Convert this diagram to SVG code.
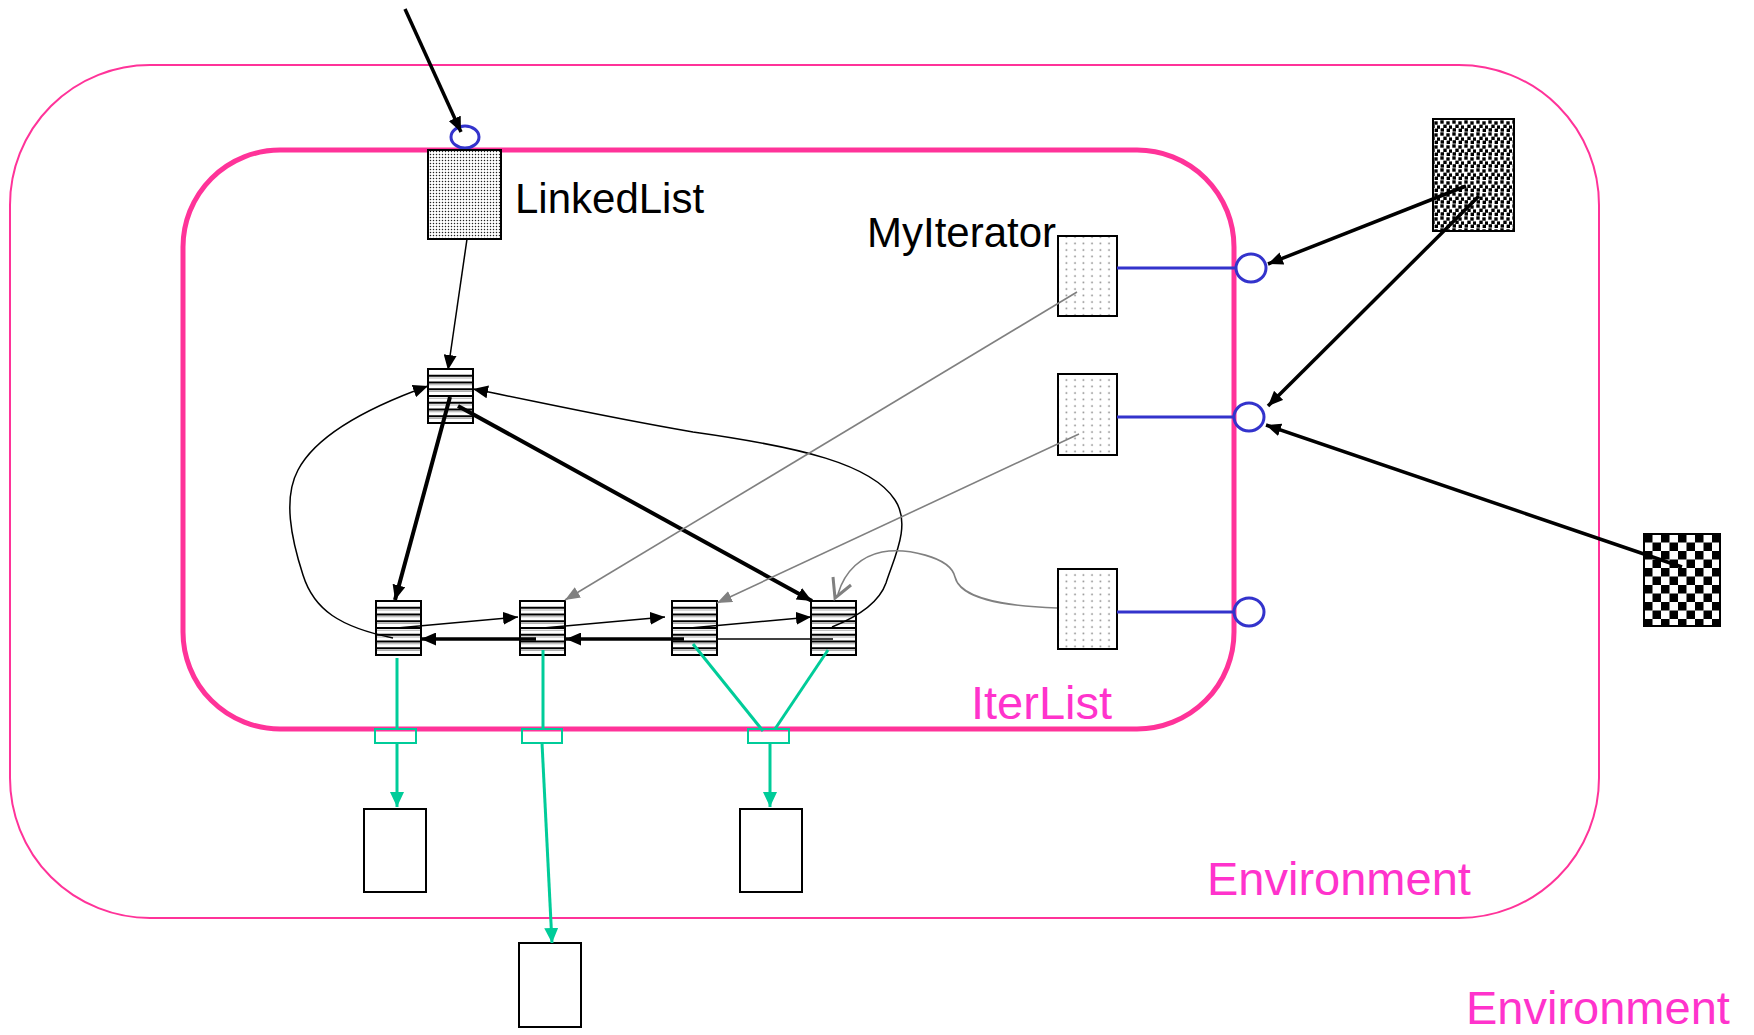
<svg xmlns="http://www.w3.org/2000/svg" xmlns:xlink="http://www.w3.org/1999/xlink" width="1754" height="1035" viewBox="0 0 1754 1035">
<style>
.env{fill:none;stroke:#FF3399}
.lbl{font-family:"Liberation Sans",Arial,sans-serif;font-size:42px;fill:#000}
.plbl{font-family:"Liberation Sans",Arial,sans-serif;font-size:47px;fill:#FF33CC}
.box{stroke:#000;stroke-width:2}
.blue{stroke:#3333CC;stroke-width:3;fill:none}
.blk{stroke:#000;fill:none}
.gry{stroke:#808080;fill:none;stroke-width:1.6}
.grn{stroke:#00CC99;stroke-width:3;fill:none}
</style>
<defs>
<marker id="ah" markerUnits="userSpaceOnUse" markerWidth="15" markerHeight="13" refX="15" refY="6.5" orient="auto"><path d="M0,0 L15,6.5 L0,13 z" fill="#000"/></marker>
<marker id="ahg" markerUnits="userSpaceOnUse" markerWidth="15" markerHeight="12" refX="15" refY="6" orient="auto"><path d="M0,0 L15,6 L0,12 z" fill="#808080"/></marker>
<marker id="ahn" markerUnits="userSpaceOnUse" markerWidth="15" markerHeight="14" refX="15" refY="7" orient="auto"><path d="M0,0 L15,7 L0,14 z" fill="#00CC99"/></marker>
<pattern id="dense" patternUnits="userSpaceOnUse" width="3" height="3"><rect width="3" height="3" fill="#fff"/><circle cx="1.5" cy="1.5" r="0.75" fill="#222"/></pattern>
<pattern id="sparse" patternUnits="userSpaceOnUse" width="8.5" height="6.5"><rect width="8.5" height="6.5" fill="#fff"/><circle cx="4" cy="3" r="0.9" fill="#888"/></pattern>
<pattern id="heavy" patternUnits="userSpaceOnUse" width="12" height="12"><rect width="12" height="12" fill="#fff"/><g fill="#000"><rect x="0.3" y="0.3" width="3.4" height="3.4"/><rect x="6.3" y="1.3" width="3.4" height="3.4"/><rect x="3.3" y="4.6" width="3.4" height="3.4"/><rect x="9" y="5.4" width="3" height="3.4"/><rect x="0.6" y="8.2" width="3.4" height="3.4"/><rect x="6.6" y="8.6" width="3.4" height="3.4"/></g></pattern>
<pattern id="checker" patternUnits="userSpaceOnUse" x="1644" y="534" width="17" height="17"><rect width="17" height="17" fill="#fff"/><rect width="8.5" height="8.5" fill="#000"/><rect x="8.5" y="8.5" width="8.5" height="8.5" fill="#000"/></pattern>
<g id="cell">
<rect x="0" y="0" width="45" height="54" fill="#fff"/>
<path d="M0,6.75H45M0,13.5H45M0,20.25H45M0,27H45M0,33.75H45M0,40.5H45M0,47.25H45" stroke="#000" stroke-width="1.8"/>
<path d="M0,9H45M0,15.75H45M0,22.5H45M0,29.25H45M0,36H45M0,42.75H45M0,49.5H45" stroke="#999" stroke-width="0.8"/>
<rect x="0" y="0" width="45" height="54" fill="none" stroke="#000" stroke-width="2"/>
</g>
</defs>
<rect width="1754" height="1035" fill="#fff"/>

<g id="environment">
<rect class="env" x="10" y="65" width="1589" height="853" rx="140" ry="140" stroke-width="2"/>
<text class="plbl" x="1207" y="895">Environment</text>
</g>
<g id="environment-outer">
<text class="plbl" x="1466" y="1024">Environment</text>
</g>
<g id="iterlist">
<rect class="env" x="183" y="150" width="1051" height="579" rx="97" ry="97" stroke-width="5"/>
<text class="plbl" x="971" y="719">IterList</text>
</g>

<g id="linkedlist">
<ellipse class="blue" cx="465" cy="137" rx="14" ry="11"/>
<rect class="box" x="428" y="150" width="73" height="89" fill="url(#dense)"/>
<text class="lbl" x="515" y="213">LinkedList</text>
</g>
<g id="head"><use xlink:href="#cell" x="428" y="369"/></g>
<g id="n1"><use xlink:href="#cell" x="376" y="601"/></g>
<g id="n2"><use xlink:href="#cell" x="520" y="601"/></g>
<g id="n3"><use xlink:href="#cell" x="672" y="601"/></g>
<g id="n4"><use xlink:href="#cell" x="811" y="601"/></g>

<g id="myiterator1">
<rect class="box" x="1058" y="236" width="59" height="80" fill="url(#sparse)"/>
<text class="lbl" x="867" y="247">MyIterator</text>
<ellipse class="blue" cx="1251" cy="268" rx="15" ry="14"/>
</g>
<g id="myiterator2">
<rect class="box" x="1058" y="374" width="59" height="81" fill="url(#sparse)"/>
<ellipse class="blue" cx="1249" cy="417" rx="15" ry="14"/>
</g>
<g id="myiterator3">
<rect class="box" x="1058" y="569" width="59" height="80" fill="url(#sparse)"/>
<ellipse class="blue" cx="1249" cy="612" rx="15" ry="14"/>
</g>

<g id="client1"><rect class="box" x="1433" y="119" width="81" height="112" fill="url(#heavy)"/></g>
<g id="client2"><rect class="box" x="1644" y="534" width="76" height="92" fill="url(#checker)"/></g>

<g id="value1"><rect class="box" x="364" y="809" width="62" height="83" fill="#fff"/></g>
<g id="value2"><rect class="box" x="519" y="943" width="62" height="84" fill="#fff"/></g>
<g id="value3"><rect class="box" x="740" y="809" width="62" height="83" fill="#fff"/></g>

<g id="connectors">
<line class="blk" x1="405" y1="9" x2="461" y2="132" stroke-width="3.5" marker-end="url(#ah)"/>
<line class="blk" x1="467" y1="239" x2="448" y2="370" stroke-width="1.5" marker-end="url(#ah)"/>
<line class="blk" x1="450" y1="397" x2="395" y2="600" stroke-width="4" marker-end="url(#ah)"/>
<line class="blk" x1="458" y1="406" x2="812" y2="601" stroke-width="4" marker-end="url(#ah)"/>
<line class="blk" x1="397" y1="628" x2="518" y2="617" stroke-width="1.5" marker-end="url(#ah)"/>
<line class="blk" x1="543" y1="628" x2="665" y2="617" stroke-width="1.5" marker-end="url(#ah)"/>
<line class="blk" x1="690" y1="628" x2="811" y2="617" stroke-width="1.5" marker-end="url(#ah)"/>
<line class="blk" x1="536" y1="639" x2="421" y2="639" stroke-width="3.5" marker-end="url(#ah)"/>
<line class="blk" x1="684" y1="639" x2="566" y2="639" stroke-width="3.5" marker-end="url(#ah)"/>
<line class="blk" x1="833" y1="639" x2="717" y2="639" stroke-width="1.5"/>
<path class="blk" stroke-width="1.5" d="M393,638 C340,627 314,610 303,575 C291,538 283,498 298,470 C318,432 375,405 428,386" marker-end="url(#ah)"/>
<path class="blk" stroke-width="1.5" d="M832,627 C862,615 880,600 886,583 C893,560 912,525 895,500 C872,464 800,447 693,432 C600,416 530,400 473,389" marker-end="url(#ah)"/>
<line class="gry" x1="1077" y1="292" x2="565" y2="600" marker-end="url(#ahg)"/>
<line class="gry" x1="1079" y1="434" x2="717" y2="603" marker-end="url(#ahg)"/>
<path class="gry" d="M1057,608 C1000,606 960,598 955,577 C950,556 905,548 882,552 C862,556 845,570 838,594"/>
<path d="M833,577 L835,598 L851,585" fill="none" stroke="#808080" stroke-width="3"/>
<line class="blue" x1="1117" y1="268" x2="1236" y2="268"/>
<line class="blue" x1="1117" y1="417" x2="1234" y2="417"/>
<line class="blue" x1="1117" y1="612" x2="1234" y2="612"/>
<line class="blk" x1="1466" y1="186" x2="1268" y2="264" stroke-width="3.5" marker-end="url(#ah)"/>
<line class="blk" x1="1479" y1="196" x2="1268" y2="406" stroke-width="3.5" marker-end="url(#ah)"/>
<line class="blk" x1="1682" y1="567" x2="1266" y2="425" stroke-width="3.5" marker-end="url(#ah)"/>
<line class="grn" x1="397" y1="658" x2="397" y2="729"/>
<line class="grn" x1="397" y1="743" x2="397" y2="807" marker-end="url(#ahn)"/>
<line class="grn" x1="543" y1="650" x2="543" y2="729"/>
<line class="grn" x1="542" y1="743" x2="552" y2="943" marker-end="url(#ahn)"/>
<line class="grn" x1="693" y1="644" x2="763" y2="731"/>
<line class="grn" x1="828" y1="650" x2="775" y2="729"/>
<line class="grn" x1="770" y1="743" x2="770" y2="807" marker-end="url(#ahn)"/>
<rect x="375" y="729" width="41" height="14" fill="none" stroke="#00CC99" stroke-width="2"/>
<rect x="522" y="729" width="40" height="14" fill="none" stroke="#00CC99" stroke-width="2"/>
<rect x="748" y="729" width="41" height="14" fill="none" stroke="#00CC99" stroke-width="2"/>
</g>
</svg>
